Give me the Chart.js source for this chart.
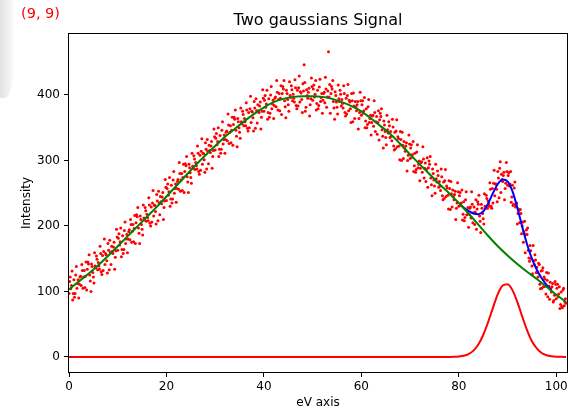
<!DOCTYPE html>
<html>
<head>
<meta charset="utf-8">
<script src="https://cdn.jsdelivr.net/npm/chart.js@4.4.1/dist/chart.umd.min.js"></script>
<style>
    html, body { margin: 0; padding: 0; background: #ffffff; }
    #wrap { position: relative; width: 568px; height: 412px; overflow: hidden; }
    #corner {
        position: absolute; left: 0; top: 0; width: 14px; height: 98px;
        background: linear-gradient(to right, #e2e2e2, #efefef 55%, #fbfbfb);
        border-bottom-right-radius: 10px 30px;
    }
    #label {
        position: absolute; left: 21px; top: 5px;
        font-family: "DejaVu Sans", sans-serif; font-size: 14.5px; color: #ff0000;
    }
    canvas { position: absolute; left: 0; top: 0; }
</style>
</head>
<body>
<div id="wrap">
    <div id="corner"></div>
    <canvas id="chart" width="568" height="412"></canvas>
    <div id="label">(9, 9)</div>
</div>
<script>
/* global Chart */

const TITLE = "Two gaussians Signal",
    LABEL_X_AXIS = "eV axis",
    LABEL_Y_AXIS = "Intensity",
    FONT = "DejaVu Sans";

const X_TICKS = [0, 20, 40, 60, 80, 100];
const Y_TICKS = [0, 100, 200, 300, 400];

// measured signal, one sample every 0.25 eV; the second list sits halfway between the first
const SIGNAL_STEP = 0.25;
const SIGNAL_A_START = 0;
const SIGNAL_A = [
    97, 122, 109, 87, 118, 97, 138, 112, 90, 122, 109, 132, 122, 106, 145, 134,
    142, 125, 100, 138, 122, 159, 136, 149, 144, 134, 158, 126, 132, 180, 158, 147,
    173, 133, 160, 169, 158, 175, 152, 195, 163, 188, 176, 153, 185, 164, 206, 180,
    159, 191, 179, 202, 192, 176, 216, 205, 214, 197, 173, 210, 195, 232, 209, 223,
    218, 208, 232, 200, 206, 254, 232, 222, 248, 208, 235, 245, 234, 251, 228, 271,
    239, 264, 252, 230, 262, 241, 283, 257, 236, 268, 256, 280, 270, 254, 294, 283,
    292, 275, 251, 289, 274, 311, 288, 302, 297, 287, 311, 279, 285, 333, 311, 301,
    327, 287, 314, 323, 312, 329, 306, 348, 316, 341, 329, 306, 338, 317, 359, 332,
    311, 343, 330, 354, 343, 327, 366, 355, 363, 346, 321, 359, 343, 380, 356, 370,
    364, 353, 377, 345, 350, 398, 375, 365, 390, 349, 376, 385, 373, 389, 366, 408,
    375, 399, 386, 363, 394, 372, 413, 386, 364, 395, 382, 404, 393, 376, 414, 402,
    409, 391, 365, 402, 385, 420, 396, 408, 401, 389, 411, 379, 383, 429, 405, 393,
    417, 446, 375, 408, 395, 410, 385, 426, 392, 415, 401, 377, 407, 384, 424, 396,
    372, 402, 388, 409, 397, 466, 416, 402, 409, 390, 363, 399, 381, 415, 390, 401,
    393, 380, 402, 368, 371, 416, 392, 379, 402, 359, 383, 390, 376, 390, 364, 404,
    369, 391, 376, 350, 379, 355, 393, 364, 339, 368, 352, 373, 359, 340, 376, 362,
    367, 347, 319, 354, 335, 369, 342, 353, 344, 330, 351, 316, 318, 362, 336, 322,
    344, 300, 323, 329, 314, 327, 300, 339, 303, 324, 309, 283, 311, 286, 324, 294,
    269, 297, 282, 302, 288, 268, 304, 289, 294, 273, 246, 280, 261, 294, 267, 277,
    268, 254, 275, 240, 242, 286, 261, 247, 269, 225, 249, 255, 240, 253, 227, 266,
    230, 251, 235, 209, 237, 213, 252, 222, 198, 227, 212, 233, 220, 202, 240, 226,
    233, 215, 190, 227, 211, 249, 227, 242, 238, 230, 256, 227, 235, 285, 264, 256,
    283, 243, 298, 279, 268, 282, 257, 297, 262, 281, 264, 236, 262, 233, 267, 232,
    203, 226, 205, 219, 200, 175, 207, 187, 187, 163, 146, 162, 139, 170, 141, 148,
    137, 122, 141, 104, 105, 136, 122, 108, 129, 92, 108, 114, 99, 112, 86, 115,
    89, 111, 96, 74, 99, 75, 105, 84, 82
];
const SIGNAL_B_START = 0.125;
const SIGNAL_B = [
    115, 104, 131, 97, 91, 125, 105, 118, 111, 123, 141, 105, 132, 123, 102, 145,
    156, 116, 142, 129, 113, 139, 154, 133, 139, 169, 130, 155, 161, 141, 156, 128,
    163, 178, 141, 161, 168, 134, 162, 183, 181, 171, 197, 164, 158, 193, 173, 187,
    180, 194, 210, 175, 202, 196, 173, 217, 228, 189, 215, 202, 186, 212, 228, 207,
    213, 243, 204, 229, 235, 215, 231, 203, 238, 253, 217, 237, 244, 210, 238, 259,
    257, 247, 274, 241, 235, 270, 250, 264, 257, 271, 297, 253, 280, 274, 251, 295,
    306, 267, 294, 281, 265, 291, 307, 286, 292, 322, 283, 308, 314, 294, 310, 282,
    317, 332, 295, 315, 322, 288, 315, 336, 334, 324, 350, 317, 311, 346, 325, 339,
    332, 345, 371, 326, 353, 346, 323, 366, 377, 337, 364, 350, 334, 359, 375, 353,
    359, 388, 349, 373, 379, 358, 374, 345, 380, 394, 357, 376, 383, 348, 375, 395,
    392, 381, 407, 373, 366, 400, 379, 392, 384, 397, 422, 377, 402, 395, 370, 413,
    422, 382, 407, 393, 375, 399, 414, 391, 395, 423, 384, 407, 411, 389, 403, 373,
    406, 419, 381, 399, 404, 368, 394, 413, 409, 397, 422, 387, 379, 412, 390, 402,
    392, 404, 427, 381, 406, 397, 372, 413, 422, 380, 405, 389, 371, 394, 407, 383,
    387, 414, 373, 395, 399, 376, 389, 358, 391, 403, 364, 381, 385, 348, 373, 391,
    385, 372, 396, 360, 350, 382, 358, 369, 358, 369, 391, 344, 367, 358, 331, 372,
    379, 337, 360, 344, 324, 347, 359, 335, 337, 363, 322, 343, 345, 321, 333, 301,
    332, 343, 303, 319, 322, 284, 308, 325, 319, 305, 329, 292, 282, 313, 289, 299,
    288, 298, 321, 273, 296, 286, 259, 299, 306, 263, 287, 270, 250, 272, 284, 259,
    261, 287, 246, 267, 269, 245, 258, 226, 257, 268, 229, 245, 248, 210, 235, 252,
    246, 232, 255, 218, 208, 240, 217, 228, 218, 229, 252, 205, 229, 221, 195, 237,
    247, 207, 233, 219, 203, 230, 247, 227, 234, 266, 230, 257, 265, 246, 264, 237,
    273, 288, 251, 271, 277, 240, 265, 283, 277, 261, 283, 244, 231, 258, 229, 235,
    219, 224, 225, 188, 206, 191, 159, 194, 197, 151, 170, 150, 127, 147, 156, 129,
    129, 143, 111, 131, 132, 107, 119, 96, 117, 128, 88, 104, 107, 84, 94, 111,
    105, 92, 107, 80, 77, 102, 78, 89
];

// broad gaussian fit
const BROAD_X = [0, 2, 4, 6, 8, 10, 12, 14, 16, 18, 20, 22, 24, 26, 28, 30, 32, 34, 36, 38,
    40, 42, 44, 46, 48, 50, 52, 54, 56, 58, 60, 62, 64, 66, 68, 70, 72, 74, 76, 78,
    80, 82, 84, 86, 88, 90, 92, 94, 96, 98, 100, 102];
const BROAD_Y = [103, 115, 127, 140, 154, 169, 184, 199, 214, 229, 245, 261, 277, 293, 308, 322, 336, 348, 360, 371,
    381, 389, 394, 397, 398, 398, 397, 394, 389, 383, 375, 364, 352, 340, 325, 309, 294, 279, 264, 250,
    235, 219, 202, 185, 169, 155, 142, 130, 119, 107, 95, 84];

// narrow gaussian component
const NARROW_X = [0, 78, 79, 80, 81, 82, 83, 84, 85, 86, 87, 88, 89, 90, 91, 92, 93, 94, 95, 96,
    97, 98, 99, 100, 101, 102];
const NARROW_Y = [0, 0, 0.2, 0.7, 1.8, 4.4, 9.6, 19, 33.5, 53, 75, 96, 109, 111, 102, 84, 62, 41, 24, 13,
    6, 2.6, 1, 0.3, 0.1, 0];

// total fit around the second peak
const TOTAL_X = [80.5, 81, 82, 83, 84, 85, 86, 87, 88, 89, 90, 91, 92, 93, 94, 95, 96, 97, 98, 99];
const TOTAL_Y = [231, 228, 223, 219, 218, 222, 234, 250, 264, 271, 268, 253, 228, 199, 172, 150, 133, 120, 110, 102];

function toPoints(xs, ys) {
    let points = [];
    for (let i = 0; i < ys.length; i++) {
        points.push({x: xs[i], y: ys[i]});
    }
    return points;
}

function signalPoints() {
    let points = [];
    for (let i = 0; i < SIGNAL_A.length; i++) {
        points.push({x: SIGNAL_A_START + i * SIGNAL_STEP, y: SIGNAL_A[i]});
    }
    for (let i = 0; i < SIGNAL_B.length; i++) {
        points.push({x: SIGNAL_B_START + i * SIGNAL_STEP, y: SIGNAL_B[i]});
    }
    return points;
}

function lineSet(points, color) {
    return {
        data: points,
        showLine: true,
        borderColor: color,
        borderWidth: 2,
        pointRadius: 0,
        cubicInterpolationMode: "monotone",
        order: 0,
    };
}

// box around the plot and a title centred over it, matplotlib style
const frame = {
    id: "frame",
    afterDraw(chart) {
        const a = chart.chartArea, ctx = chart.ctx;
        ctx.save();
        ctx.strokeStyle = "#000000";
        ctx.lineWidth = 1;
        ctx.strokeRect(Math.round(a.left) - 0.5, Math.round(a.top) - 0.5,
            Math.round(a.right - a.left) + 1, Math.round(a.bottom - a.top) + 1);
        ctx.fillStyle = "#000000";
        ctx.font = "16px '" + FONT + "'";
        ctx.textAlign = "center";
        ctx.textBaseline = "middle";
        ctx.fillText(TITLE, (a.left + a.right) / 2, 21);
        ctx.restore();
    },
};

function tickFont() {
    return {family: FONT, size: 12};
}

new Chart(document.getElementById("chart"), {
    type: "scatter",
    data: {
        datasets: [
            lineSet(toPoints(BROAD_X, BROAD_Y), "#008000"),
            lineSet(toPoints(TOTAL_X, TOTAL_Y), "#0000ff"),
            lineSet(toPoints(NARROW_X, NARROW_Y), "#ff0000"),
            {
                data: signalPoints(),
                backgroundColor: "#ff0000",
                borderWidth: 0,
                pointRadius: 1.5,
                order: 5,
            },
        ],
    },
    options: {
        responsive: false,
        animation: false,
        layout: {autoPadding: false, padding: {left: 0, right: 1, top: 34, bottom: 0}},
        plugins: {
            legend: {display: false},
            tooltip: {enabled: false},
            title: {display: false},
        },
        scales: {
            x: {
                type: "linear",
                min: 0,
                max: 102.2,
                afterBuildTicks: (s) => { s.ticks = X_TICKS.map((v) => ({value: v})); },
                afterFit: (s) => {
                    s.height = 40;
                    s.paddingLeft = 0;
                    s.paddingRight = 0;
                },
                border: {display: false},
                grid: {drawOnChartArea: false, tickLength: 5, tickColor: "#000000"},
                ticks: {color: "#000000", font: tickFont(), padding: 3, maxRotation: 0},
                title: {display: true, text: LABEL_X_AXIS, color: "#000000", font: tickFont(), padding: {top: 0, bottom: 2}},
            },
            y: {
                type: "linear",
                min: -23,
                max: 493,
                afterBuildTicks: (s) => { s.ticks = Y_TICKS.map((v) => ({value: v})); },
                afterFit: (s) => {
                    s.width = 69;
                    s.paddingTop = 0;
                    s.paddingBottom = 0;
                },
                border: {display: false},
                grid: {drawOnChartArea: false, tickLength: 5, tickColor: "#000000"},
                ticks: {color: "#000000", font: tickFont(), padding: 4},
                title: {display: true, text: LABEL_Y_AXIS, color: "#000000", font: tickFont(), padding: {top: 20, bottom: 0}},
            },
        },
    },
    plugins: [frame],
});
</script>
</body>
</html>
